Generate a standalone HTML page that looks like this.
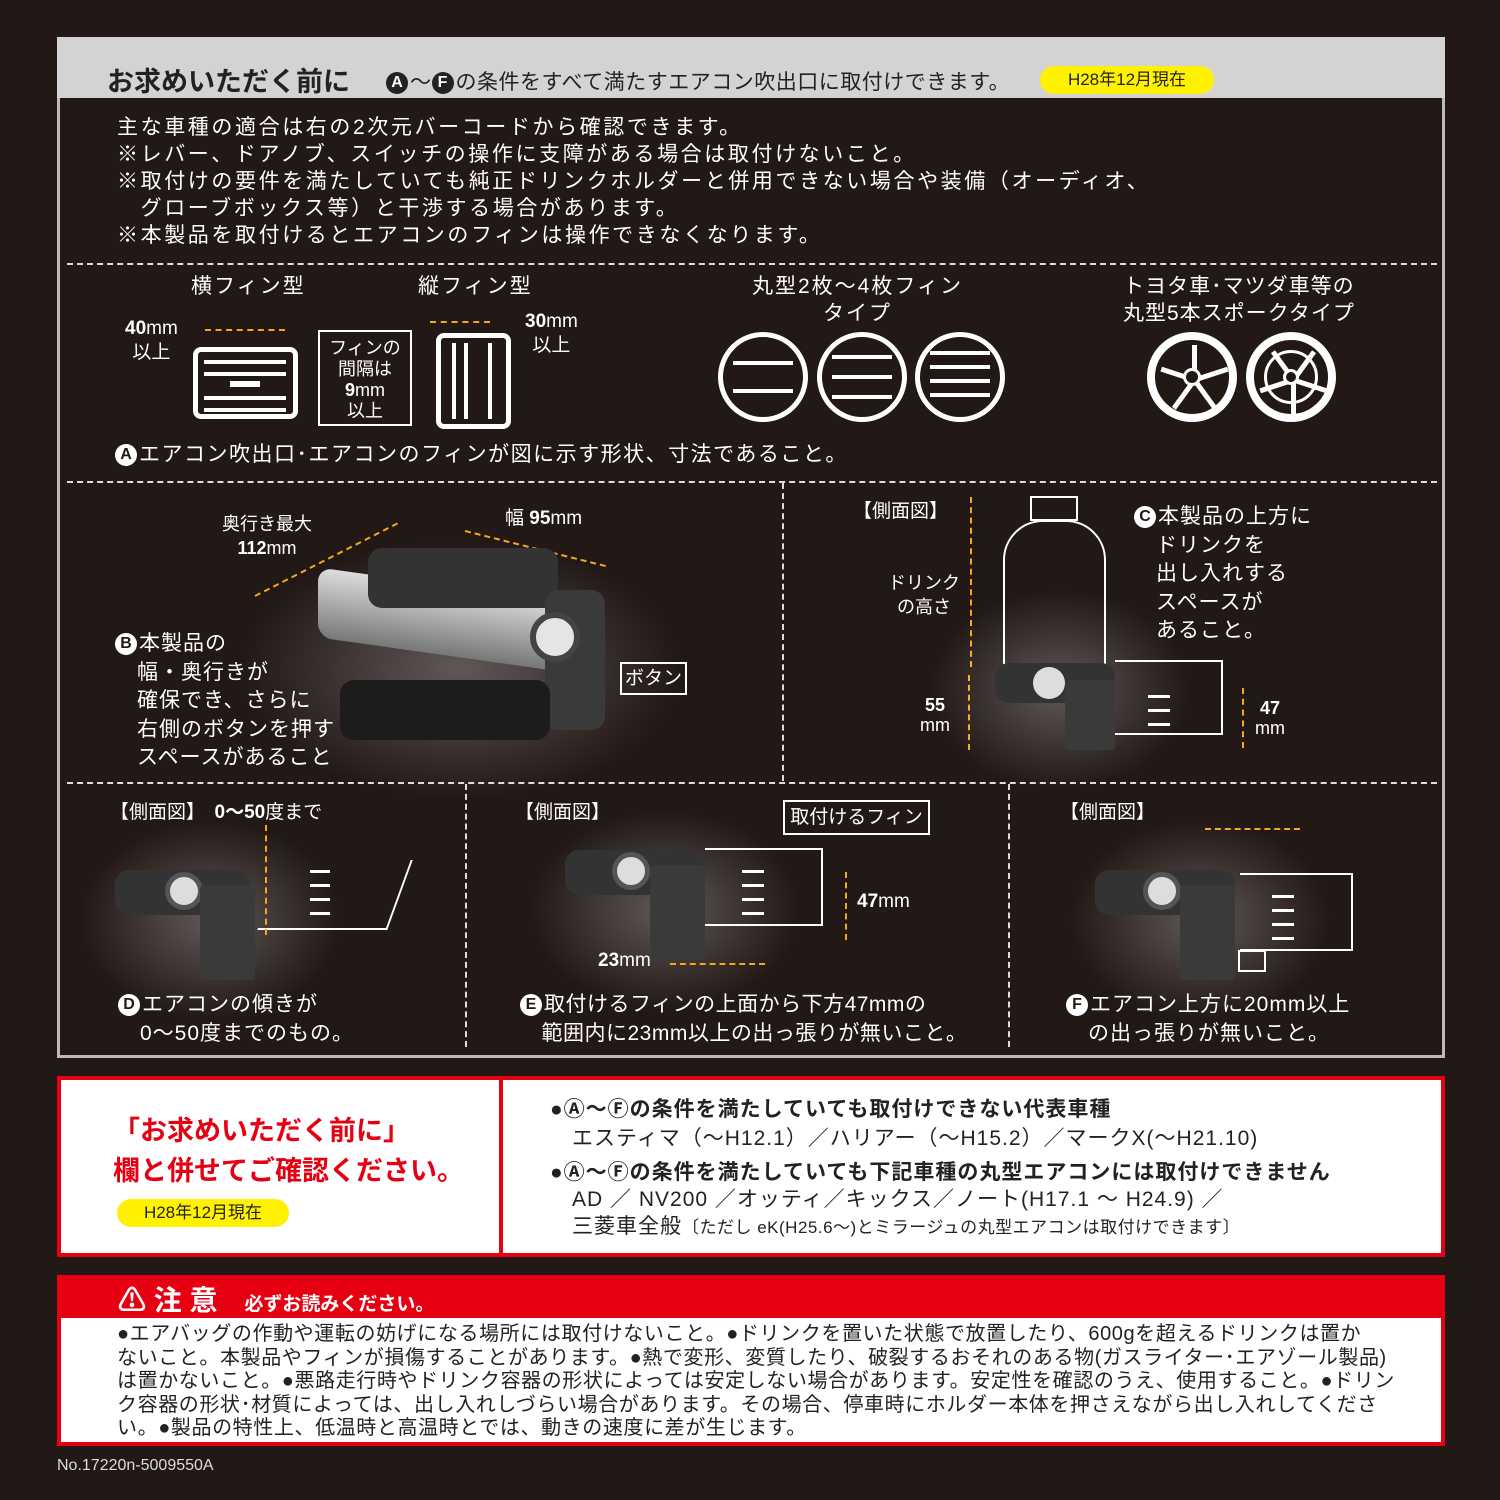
<!DOCTYPE html>
<html><head><meta charset="utf-8"><style>
*{margin:0;padding:0;box-sizing:border-box}
body{width:1500px;height:1500px;background:#221816;position:relative;overflow:hidden;font-family:"Liberation Sans","Noto Sans CJK JP",sans-serif;color:#fff}
.a{position:absolute;white-space:nowrap}
.dh{position:absolute;border-top:2px dashed #ddd;height:0}
.dv{position:absolute;border-left:2px dashed #ddd;width:0}
.t{font-size:21px;line-height:27px;letter-spacing:2px}
.c{display:inline-block;width:22px;height:22px;border-radius:50%;background:#fff;color:#221816;font-size:16px;line-height:22px;text-align:center;font-weight:bold;vertical-align:2px;margin-right:2px;letter-spacing:0}
.glow{position:absolute;border-radius:50%;background:radial-gradient(closest-side,rgba(255,255,255,.28),rgba(255,255,255,0))}
.orn{position:absolute;border-top:2px dashed #f5a623;height:0}
.orv{position:absolute;border-left:2px dashed #f5a623;width:0}
.dev{position:absolute;background:#2a2a2a;border-radius:14px}
.circ{position:absolute;width:90px;height:90px;border-radius:50%;border:5px solid #fff;background:#221816}
.bar{position:absolute;left:10px;right:10px;height:4px;background:#fff}
.sp{position:absolute;left:37px;top:5px;width:5px;height:35px;background:#fff;transform-origin:50% 100%}
</style></head><body>
<div class="a" style="left:57px;top:37px;width:1388px;height:1021px;border:3px solid #bbb"></div>
<div class="a" style="left:57px;top:37px;width:1388px;height:61px;background:#d3d3d3"></div>
<div class="a" style="left:107px;top:60px;font-size:27px;font-weight:bold;color:#222">お求めいただく前に</div>
<div class="a" style="left:386px;top:66px;font-size:21px;color:#222;letter-spacing:0.5px"><span class="c" style="background:#222;color:#fff">A</span>〜<span class="c" style="background:#222;color:#fff">F</span>の条件をすべて満たすエアコン吹出口に取付けできます。</div>
<div class="a" style="left:1040px;top:66px;width:174px;height:28px;background:#fff100;border-radius:14px;color:#222;font-size:17px;line-height:28px;text-align:center">H28年12月現在</div>

<div class="a t" style="left:117px;top:114px;letter-spacing:2.6px">主な車種の適合は右の2次元バーコードから確認できます。<br>※レバー、ドアノブ、スイッチの操作に支障がある場合は取付けないこと。<br>※取付けの要件を満たしていても純正ドリンクホルダーと併用できない場合や装備（オーディオ、<br>　グローブボックス等）と干渉する場合があります。<br>※本製品を取付けるとエアコンのフィンは操作できなくなります。</div>

<div class="dh" style="left:67px;top:263px;width:1370px"></div>
<div class="a t" style="left:191px;top:273px">横フィン型</div>
<div class="a t" style="left:418px;top:273px">縦フィン型</div>
<div class="a t" style="left:752px;top:273px;text-align:center">丸型2枚〜4枚フィン<br>タイプ</div>
<div class="a t" style="left:1123px;top:273px;text-align:center;letter-spacing:1px">トヨタ車･マツダ車等の<br>丸型5本スポークタイプ</div>
<div class="a" style="left:125px;top:317px;font-size:19px;text-align:center;line-height:24px"><b>40</b>mm<br>以上</div>
<div class="orn" style="left:205px;top:329px;width:80px"></div>
<div class="a" style="left:193px;top:347px;width:105px;height:72px;border:5px solid #fff;border-radius:8px"></div>
<div class="a" style="left:204px;top:360px;width:82px;height:4px;background:#fff;box-shadow:0 12px #fff,0 36px #fff,0 48px #fff"></div>
<div class="a" style="left:230px;top:381px;width:30px;height:6px;background:#fff"></div>
<div class="a" style="left:318px;top:330px;width:94px;height:96px;border:2px solid #fff;font-size:18px;line-height:21px;text-align:center;padding-top:6px">フィンの<br>間隔は<br><b>9</b>mm<br>以上</div>
<div class="a" style="left:436px;top:333px;width:75px;height:96px;border:5px solid #fff;border-radius:8px"></div>
<div class="a" style="left:452px;top:343px;width:4px;height:76px;background:#fff;box-shadow:12px 0 #fff,36px 0 #fff"></div>
<div class="orn" style="left:430px;top:321px;width:60px"></div>
<div class="a" style="left:525px;top:310px;font-size:19px;text-align:center;line-height:24px"><b>30</b>mm<br>以上</div>
<div class="circ" style="left:718px;top:332px"><div class="bar" style="top:24px"></div><div class="bar" style="top:52px"></div></div>
<div class="circ" style="left:817px;top:332px"><div class="bar" style="top:18px"></div><div class="bar" style="top:38px"></div><div class="bar" style="top:58px"></div></div>
<div class="circ" style="left:915px;top:332px"><div class="bar" style="top:14px"></div><div class="bar" style="top:28px"></div><div class="bar" style="top:42px"></div><div class="bar" style="top:56px"></div></div>
<div class="circ" style="left:1147px;top:332px;border-width:8px">
<div class="sp" style="transform:rotate(0deg)"></div><div class="sp" style="transform:rotate(72deg)"></div><div class="sp" style="transform:rotate(144deg)"></div><div class="sp" style="transform:rotate(216deg)"></div><div class="sp" style="transform:rotate(288deg)"></div>
<div class="a" style="left:28px;top:28px;width:18px;height:18px;border:3px solid #fff;border-radius:50%;background:#221816"></div></div>
<div class="circ" style="left:1246px;top:332px;border-width:8px">
<div class="sp" style="transform:rotate(36deg)"></div><div class="sp" style="transform:rotate(108deg)"></div><div class="sp" style="transform:rotate(180deg)"></div><div class="sp" style="transform:rotate(252deg)"></div><div class="sp" style="transform:rotate(324deg)"></div>
<div class="a" style="left:10px;top:10px;width:54px;height:54px;border:3px solid #fff;border-radius:50%"></div>
<div class="a" style="left:29px;top:29px;width:16px;height:16px;border:3px solid #fff;border-radius:50%;background:#221816"></div></div>
<div class="a t" style="left:115px;top:441px;letter-spacing:1.5px"><span class="c">A</span>エアコン吹出口･エアコンのフィンが図に示す形状、寸法であること。</div>

<div class="dh" style="left:67px;top:481px;width:1370px"></div>
<div class="dv" style="left:782px;top:483px;height:298px"></div>
<div class="a" style="left:222px;top:512px;font-size:18px;text-align:center;line-height:24px">奥行き最大<br><b>112</b>mm</div>
<div class="a" style="left:505px;top:503px;font-size:19px">幅 <b>95</b>mm</div>
<div class="orn" style="left:465px;top:530px;width:145px;transform:rotate(14deg);transform-origin:left"></div>
<div class="orn" style="left:255px;top:595px;width:160px;transform:rotate(-27deg);transform-origin:left"></div>
<div class="glow" style="left:240px;top:540px;width:440px;height:260px"></div>
<div class="dev" style="left:318px;top:585px;width:250px;height:70px;background:linear-gradient(#ddd,#777);transform:skewY(8deg)"></div>
<div class="dev" style="left:368px;top:548px;width:190px;height:60px;background:#333"></div>
<div class="dev" style="left:545px;top:590px;width:60px;height:140px;background:#3a3a3a"></div>
<div class="a" style="left:530px;top:612px;width:50px;height:50px;border-radius:50%;background:#e5e5e5;border:6px solid #444"></div>
<div class="dev" style="left:340px;top:680px;width:210px;height:60px;background:#1c1c1c"></div>
<div class="a" style="left:620px;top:662px;width:67px;height:33px;border:2px solid #fff;font-size:19px;line-height:29px;text-align:center">ボタン</div>
<div class="a t" style="left:115px;top:630px;line-height:28.5px;letter-spacing:1px"><span class="c">B</span>本製品の<br>　幅・奥行きが<br>　確保でき、さらに<br>　右側のボタンを押す<br>　スペースがあること</div>
<div class="a" style="left:853px;top:496px;font-size:19px">【側面図】</div>
<div class="a" style="left:888px;top:571px;font-size:18px;text-align:center;line-height:24px">ドリンク<br>の高さ</div>
<div class="orv" style="left:970px;top:497px;height:170px"></div>
<div class="orv" style="left:968px;top:675px;height:75px"></div>
<div class="a" style="left:920px;top:695px;font-size:18px;line-height:20px;text-align:center"><b>55</b><br>mm</div>
<div class="glow" style="left:930px;top:590px;width:260px;height:200px"></div>
<div class="a" style="left:1003px;top:520px;width:103px;height:150px;border:2px solid #fff;border-radius:40px 40px 8px 8px"></div>
<div class="a" style="left:1030px;top:496px;width:48px;height:25px;border:2px solid #fff"></div>
<div class="dev" style="left:995px;top:663px;width:120px;height:40px;background:#333"></div>
<div class="a" style="left:1033px;top:667px;width:32px;height:32px;border-radius:50%;background:#ddd"></div>
<div class="dev" style="left:1065px;top:680px;width:50px;height:70px;background:#3a3a3a;border-radius:4px"></div>
<div class="a" style="left:1115px;top:660px;width:108px;height:75px;border:2px solid #fff;border-left:none"></div>
<div class="a" style="left:1148px;top:695px;width:22px;height:3px;background:#fff;box-shadow:0 14px #fff,0 28px #fff"></div>
<div class="orv" style="left:1242px;top:688px;height:60px"></div>
<div class="a" style="left:1255px;top:698px;font-size:18px;line-height:20px;text-align:center"><b>47</b><br>mm</div>
<div class="a t" style="left:1134px;top:503px;line-height:28.5px;letter-spacing:1px"><span class="c">C</span>本製品の上方に<br>　ドリンクを<br>　出し入れする<br>　スペースが<br>　あること。</div>

<div class="dh" style="left:67px;top:782px;width:1370px"></div>
<div class="dv" style="left:465px;top:784px;height:263px"></div>
<div class="dv" style="left:1008px;top:784px;height:263px"></div>
<div class="a" style="left:110px;top:797px;font-size:19px">【側面図】　<b>0〜50</b>度まで</div>
<div class="glow" style="left:80px;top:820px;width:260px;height:200px"></div>
<div class="dev" style="left:115px;top:870px;width:135px;height:45px;background:#333"></div>
<div class="a" style="left:165px;top:872px;width:38px;height:38px;border-radius:50%;background:#ddd;border:5px solid #555"></div>
<div class="dev" style="left:200px;top:885px;width:55px;height:95px;background:#3a3a3a;border-radius:4px"></div>
<div class="a" style="left:270px;top:860px;width:130px;height:70px;border-right:2px solid #fff;border-bottom:2px solid #fff;transform:skewX(-20deg)"></div>
<div class="a" style="left:310px;top:870px;width:20px;height:3px;background:#fff;box-shadow:0 14px #fff,0 28px #fff,0 42px #fff"></div>
<div class="orv" style="left:265px;top:825px;height:110px"></div>
<div class="a t" style="left:118px;top:990px;line-height:29px;letter-spacing:1px"><span class="c">D</span>エアコンの傾きが<br>　0〜50度までのもの。</div>
<div class="a" style="left:515px;top:797px;font-size:19px">【側面図】</div>
<div class="a" style="left:783px;top:800px;width:147px;height:35px;border:2px solid #fff;font-size:19px;line-height:31px;text-align:center">取付けるフィン</div>
<div class="glow" style="left:530px;top:810px;width:270px;height:200px"></div>
<div class="dev" style="left:565px;top:850px;width:140px;height:45px;background:#333"></div>
<div class="a" style="left:612px;top:852px;width:38px;height:38px;border-radius:50%;background:#ddd;border:5px solid #555"></div>
<div class="dev" style="left:650px;top:865px;width:55px;height:95px;background:#3a3a3a;border-radius:4px"></div>
<div class="a" style="left:705px;top:848px;width:118px;height:78px;border:2px solid #fff;border-left:none"></div>
<div class="a" style="left:742px;top:870px;width:22px;height:3px;background:#fff;box-shadow:0 14px #fff,0 28px #fff,0 42px #fff"></div>
<div class="orv" style="left:845px;top:872px;height:68px"></div>
<div class="a" style="left:857px;top:891px;font-size:19px"><b>47</b>mm</div>
<div class="orn" style="left:670px;top:963px;width:95px"></div>
<div class="a" style="left:598px;top:950px;font-size:19px"><b>23</b>mm</div>
<div class="a t" style="left:520px;top:990px;line-height:29px;letter-spacing:0.5px"><span class="c">E</span>取付けるフィンの上面から下方47mmの<br>　範囲内に23mm以上の出っ張りが無いこと。</div>
<div class="a" style="left:1060px;top:797px;font-size:19px">【側面図】</div>
<div class="orn" style="left:1205px;top:828px;width:95px"></div>
<div class="glow" style="left:1070px;top:820px;width:260px;height:200px"></div>
<div class="dev" style="left:1095px;top:870px;width:140px;height:45px;background:#333"></div>
<div class="a" style="left:1143px;top:872px;width:38px;height:38px;border-radius:50%;background:#ddd;border:5px solid #555"></div>
<div class="dev" style="left:1180px;top:885px;width:55px;height:95px;background:#3a3a3a;border-radius:4px"></div>
<div class="a" style="left:1240px;top:873px;width:113px;height:78px;border:2px solid #fff;border-left:none"></div>
<div class="a" style="left:1272px;top:895px;width:22px;height:3px;background:#fff;box-shadow:0 14px #fff,0 28px #fff,0 42px #fff"></div>
<div class="a" style="left:1238px;top:950px;width:28px;height:22px;border:2px solid #fff"></div>
<div class="a t" style="left:1066px;top:990px;line-height:29px;letter-spacing:1px"><span class="c">F</span>エアコン上方に20mm以上<br>　の出っ張りが無いこと。</div>

<div class="a" style="left:57px;top:1076px;width:1388px;height:181px;border:4px solid #e60012;background:#fff"></div>
<div class="a" style="left:499px;top:1076px;width:4px;height:181px;background:#e60012"></div>
<div class="a" style="left:113px;top:1111px;font-size:27px;font-weight:bold;color:#e60012;line-height:40px">「お求めいただく前に」<br>欄と併せてご確認ください。</div>
<div class="a" style="left:117px;top:1199px;width:172px;height:28px;background:#fff100;border-radius:14px;color:#222;font-size:17px;line-height:28px;text-align:center">H28年12月現在</div>
<div class="a" style="left:550px;top:1095px;font-size:21px;color:#222;line-height:29px;letter-spacing:1px"><b>●Ⓐ〜Ⓕの条件を満たしていても取付けできない代表車種</b><br>　エスティマ（〜H12.1）／ハリアー（〜H15.2）／マークX(〜H21.10)</div>
<div class="a" style="left:550px;top:1159px;font-size:21px;color:#222;line-height:27px;letter-spacing:1px"><b>●Ⓐ〜Ⓕの条件を満たしていても下記車種の丸型エアコンには取付けできません</b><br>　AD ／ NV200 ／オッティ／キックス／ノート(H17.1 〜 H24.9) ／<br>　三菱車全般<span style="font-size:17px;letter-spacing:0.5px">〔ただし eK(H25.6〜)とミラージュの丸型エアコンは取付けできます〕</span></div>

<div class="a" style="left:57px;top:1275px;width:1388px;height:171px;border:4px solid #e60012;background:#fff"></div>
<div class="a" style="left:57px;top:1275px;width:1388px;height:43px;background:#e60012"></div>
<div class="a" style="left:118px;top:1279px;font-size:28px;font-weight:bold;color:#fff">⚠ 注 意 <span style="font-size:19px">　必ずお読みください。</span></div>
<div class="a" style="left:117px;top:1323px;font-size:20px;color:#222;line-height:23.5px;letter-spacing:0.6px">●エアバッグの作動や運転の妨げになる場所には取付けないこと。●ドリンクを置いた状態で放置したり、600gを超えるドリンクは置か<br>ないこと。本製品やフィンが損傷することがあります。●熱で変形、変質したり、破裂するおそれのある物(ガスライター･エアゾール製品)<br>は置かないこと。●悪路走行時やドリンク容器の形状によっては安定しない場合があります。安定性を確認のうえ、使用すること。●ドリン<br>ク容器の形状･材質によっては、出し入れしづらい場合があります。その場合、停車時にホルダー本体を押さえながら出し入れしてくださ<br>い。●製品の特性上、低温時と高温時とでは、動きの速度に差が生じます。</div>
<div class="a" style="left:57px;top:1457px;font-size:16px;color:#ddd">No.17220n-5009550A</div>
</body></html>
